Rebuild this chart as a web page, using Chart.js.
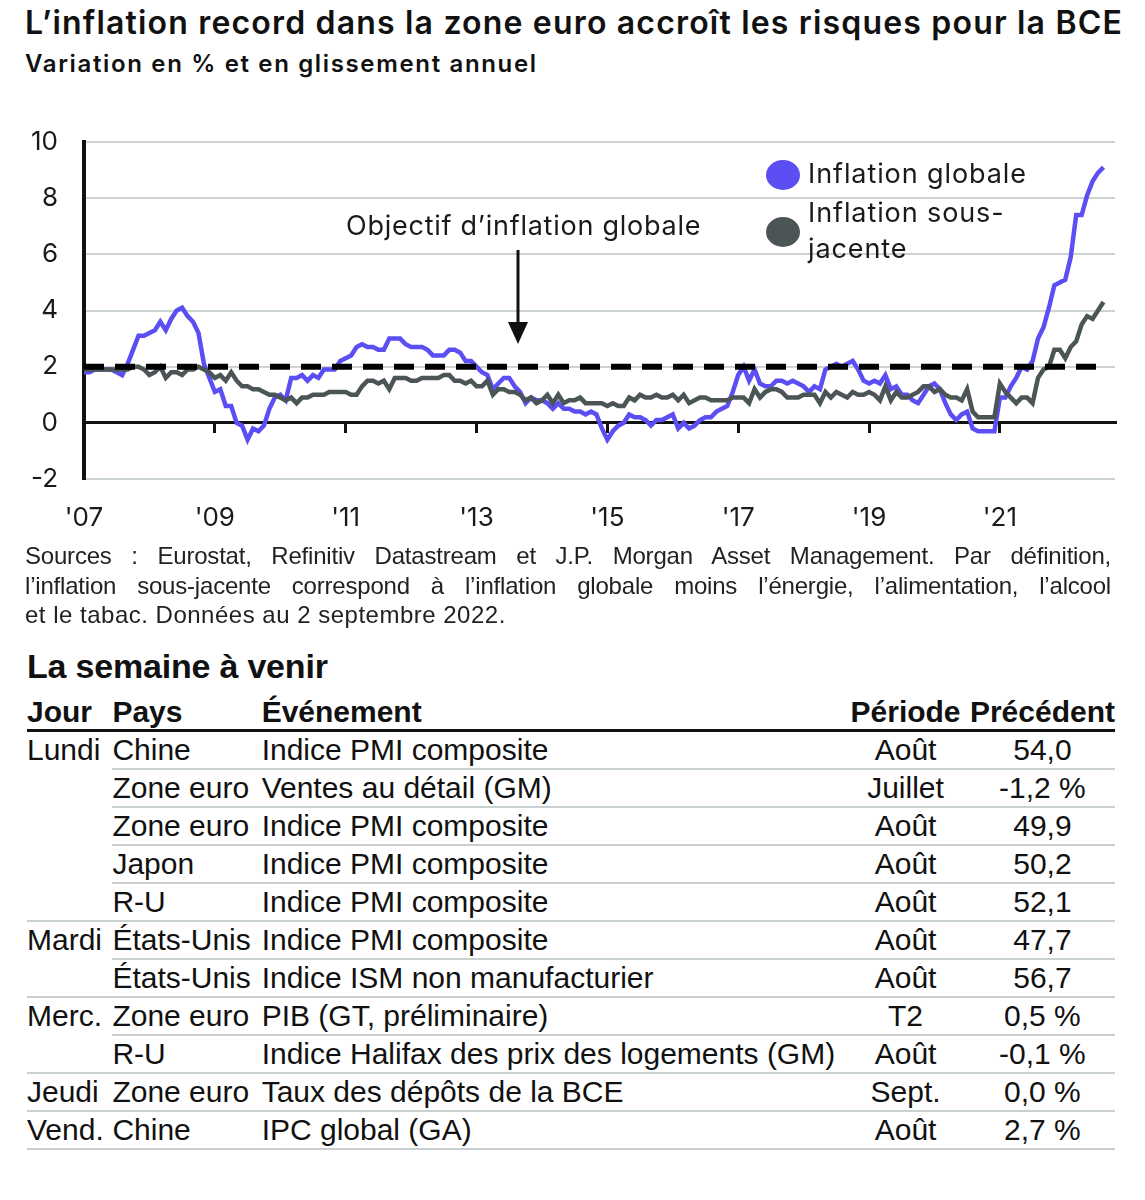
<!DOCTYPE html>
<html lang="fr">
<head>
<meta charset="utf-8">
<script src="https://cdn.jsdelivr.net/npm/chart.js@4/dist/chart.umd.min.js"></script>
<style>
  body { margin: 0; background: #fff; width: 1145px; height: 1200px; position: relative; overflow: hidden; color: #111; }
  .abs { position: absolute; white-space: nowrap; }
  #title { left: 25px; top: 3px; font: 600 32px Inter, sans-serif; letter-spacing: 1.18px; }
  #subtitle { left: 25px; top: 49px; font: 600 24px Inter, sans-serif; letter-spacing: 1.65px; }
  #chartBox { position: absolute; left: 0; top: 120px; width: 1145px; height: 430px; }
  .ann { font: 400 27px Inter, sans-serif; color: #1a1a1a; }
  .dot { position: absolute; width: 34px; height: 30px; border-radius: 50%; }
  #notes { position: absolute; left: 25px; top: 541px; width: 1086px; font: 24px "Liberation Sans", Arial, sans-serif; line-height: 29.5px; color: #222; }
  #notes .j { text-align: justify; text-align-last: justify; white-space: nowrap; letter-spacing: -0.2px; }
  #weekTitle { left: 27px; top: 647px; font: 700 34px "Liberation Sans", Arial, sans-serif; letter-spacing: -0.2px; }
  table { position: absolute; left: 27px; top: 694px; width: 1088px; border-collapse: collapse; font: 30px "Liberation Sans", Arial, sans-serif; color: #111; }
  td, th { padding: 0; height: 36px; line-height: 36px; white-space: nowrap; vertical-align: middle; }
  th { font-weight: 700; text-align: left; border-bottom: 3px solid #111; height: 35px; line-height: 34px; }
  td { border-bottom: 2px solid #c9d0d0; }
  td.day { vertical-align: top; }
  .c { text-align: center !important; }
</style>
</head>
<body>
<div id="title" class="abs">L’inflation record dans la zone euro accroît les risques pour la BCE</div>
<div id="subtitle" class="abs">Variation en % et en glissement annuel</div>

<div id="chartBox"><canvas id="lineChart" width="1145" height="430"></canvas></div>

<div class="abs ann" style="left:346px; top:209px; letter-spacing:0.75px;">Objectif d’inflation globale</div>
<svg class="abs" style="left:500px; top:248px;" width="40" height="100">
  <line x1="18" y1="2" x2="18" y2="80" stroke="#111" stroke-width="3"/>
  <polygon points="8,74 28,74 18,96" fill="#111"/>
</svg>

<div class="dot" style="left:766px; top:160px; background:#5b4ef2;"></div>
<div class="dot" style="left:766px; top:217px; background:#4b5555;"></div>
<div class="abs ann" style="left:808px; top:157px; letter-spacing:0.9px;">Inflation globale</div>
<div class="abs ann" style="left:808px; top:195px; line-height:36px; letter-spacing:0.9px;">Inflation sous-<br>jacente</div>

<div id="notes">
  <div class="j">Sources : Eurostat, Refinitiv Datastream et J.P. Morgan Asset Management. Par définition,</div>
  <div class="j">l’inflation sous-jacente correspond à l’inflation globale moins l’énergie, l’alimentation, l’alcool</div>
  <div style="letter-spacing:0.5px;">et le tabac. Données au 2 septembre 2022.</div>
</div>

<div id="weekTitle" class="abs">La semaine à venir</div>
<table id="agenda">
  <colgroup><col style="width:86px"><col style="width:150px"><col style="width:580px"><col style="width:130px"><col style="width:142px"></colgroup>
  <thead><tr><th>Jour</th><th>Pays</th><th>Événement</th><th class="c">Période</th><th class="c">Précédent</th></tr></thead>
  <tbody id="agendaBody"></tbody>
</table>

<script>
// séries mensuelles, janvier 2007 -> août 2022
const startYear = 2007;
const headline = [
  1.8, 1.8, 1.9, 1.9, 1.9, 1.9, 1.8, 1.7, 2.1, 2.6, 3.1, 3.1,
  3.2, 3.3, 3.6, 3.3, 3.7, 4.0, 4.1, 3.8, 3.6, 3.2, 2.1, 1.6,
  1.1, 1.2, 0.6, 0.6, 0.0, -0.1, -0.6, -0.2, -0.3, -0.1, 0.5, 0.9,
  1.0, 0.8, 1.6, 1.6, 1.7, 1.5, 1.7, 1.6, 1.9, 1.9, 1.9, 2.2,
  2.3, 2.4, 2.7, 2.8, 2.7, 2.7, 2.6, 2.6, 3.0, 3.0, 3.0, 2.8,
  2.7, 2.7, 2.7, 2.6, 2.4, 2.4, 2.4, 2.6, 2.6, 2.5, 2.2, 2.2,
  2.0, 1.8, 1.7, 1.2, 1.4, 1.6, 1.6, 1.3, 1.1, 0.7, 0.9, 0.8,
  0.8, 0.7, 0.5, 0.7, 0.5, 0.5, 0.4, 0.4, 0.3, 0.4, 0.3, -0.2,
  -0.6, -0.3, -0.1, 0.0, 0.3, 0.2, 0.2, 0.1, -0.1, 0.1, 0.1, 0.2,
  0.3, -0.2, 0.0, -0.2, -0.1, 0.1, 0.2, 0.2, 0.4, 0.5, 0.6, 1.1,
  1.7, 2.0, 1.5, 1.9, 1.4, 1.3, 1.3, 1.5, 1.5, 1.4, 1.5, 1.4,
  1.3, 1.1, 1.3, 1.2, 1.9, 2.0, 2.1, 2.0, 2.1, 2.2, 1.9, 1.5,
  1.4, 1.5, 1.4, 1.7, 1.2, 1.3, 1.0, 1.0, 0.8, 0.7, 1.0, 1.3,
  1.4, 1.2, 0.7, 0.3, 0.1, 0.3, 0.4, -0.2, -0.3, -0.3, -0.3, -0.3,
  0.9, 0.9, 1.3, 1.6, 2.0, 1.9, 2.2, 3.0, 3.4, 4.1, 4.9, 5.0,
  5.1, 5.9, 7.4, 7.4, 8.1, 8.6, 8.9, 9.1
];
const core = [
  1.9, 1.9, 1.9, 1.9, 1.9, 1.9, 1.9, 1.9, 1.9, 2.0, 2.0, 1.9,
  1.7, 1.8, 2.0, 1.6, 1.8, 1.8, 1.7, 1.9, 1.9, 2.0, 1.9, 1.8,
  1.6, 1.7, 1.5, 1.8, 1.5, 1.3, 1.3, 1.2, 1.2, 1.1, 1.0, 1.0,
  0.9, 0.8, 0.9, 0.7, 0.9, 0.9, 1.0, 1.0, 1.0, 1.1, 1.1, 1.1,
  1.1, 1.0, 1.0, 1.3, 1.5, 1.5, 1.4, 1.5, 1.2, 1.6, 1.6, 1.6,
  1.5, 1.5, 1.6, 1.6, 1.6, 1.6, 1.7, 1.7, 1.5, 1.5, 1.4, 1.5,
  1.3, 1.3, 1.5, 1.0, 1.2, 1.2, 1.1, 1.1, 1.0, 0.8, 0.9, 0.7,
  0.8, 1.0, 0.7, 1.0, 0.7, 0.8, 0.8, 0.9, 0.7, 0.7, 0.7, 0.7,
  0.6, 0.7, 0.6, 0.6, 0.9, 0.8, 1.0, 0.9, 0.9, 1.0, 0.9, 0.9,
  1.0, 0.8, 1.0, 0.7, 0.8, 0.9, 0.9, 0.8, 0.8, 0.8, 0.8, 0.9,
  0.9, 0.9, 0.7, 1.2, 0.9, 1.1, 1.2, 1.2, 1.1, 0.9, 0.9, 0.9,
  1.0, 1.0, 1.0, 0.7, 1.1, 0.9, 1.1, 1.0, 0.9, 1.1, 1.0, 1.0,
  1.1, 1.0, 0.8, 1.3, 0.8, 1.1, 0.9, 0.9, 1.0, 1.1, 1.3, 1.3,
  1.1, 1.2, 1.0, 0.9, 0.9, 0.8, 1.2, 0.4, 0.2, 0.2, 0.2, 0.2,
  1.4, 1.1, 0.9, 0.7, 0.9, 0.9, 0.7, 1.6, 1.9, 2.0, 2.6, 2.6,
  2.3, 2.7, 2.9, 3.5, 3.8, 3.7, 4.0, 4.3
];
const target = 2;
const tickYears = [2007, 2009, 2011, 2013, 2015, 2017, 2019, 2021];
const tickLabels = ["'07", "'09", "'11", "'13", "'15", "'17", "'19", "'21"];

// agenda de la semaine
const days = ["Lundi", "", "", "", "", "Mardi", "", "Merc.", "", "Jeudi", "Vend."];
const countries = ["Chine", "Zone euro", "Zone euro", "Japon", "R-U", "États-Unis", "États-Unis", "Zone euro", "R-U", "Zone euro", "Chine"];
const events = ["Indice PMI composite", "Ventes au détail (GM)", "Indice PMI composite", "Indice PMI composite", "Indice PMI composite",
  "Indice PMI composite", "Indice ISM non manufacturier", "PIB (GT, préliminaire)", "Indice Halifax des prix des logements (GM)",
  "Taux des dépôts de la BCE", "IPC global (GA)"];
const periods = ["Août", "Juillet", "Août", "Août", "Août", "Août", "Août", "T2", "Août", "Sept.", "Août"];
const previous = ["54,0", "-1,2 %", "49,9", "50,2", "52,1", "47,7", "56,7", "0,5 %", "-0,1 %", "0,0 %", "2,7 %"];

function buildTable() {
    const body = document.getElementById("agendaBody");
    for (let i = 0; i < days.length; i++) {
        const tr = document.createElement("tr");
        if (days[i] !== "") {
            let span = 1;
            while (i + span < days.length && days[i + span] === "") span++;
            const td = document.createElement("td");
            td.className = "day";
            td.rowSpan = span;
            td.textContent = days[i];
            tr.appendChild(td);
        }
        [countries[i], events[i], periods[i], previous[i]].forEach((txt, k) => {
            const td = document.createElement("td");
            td.textContent = txt;
            if (k >= 2) td.className = "c";
            tr.appendChild(td);
        });
        body.appendChild(tr);
    }
}
buildTable();

const toPoints = arr => arr.map((v, i) => ({ x: startYear + i / 12, y: v }));
const lastX = startYear + (headline.length - 1) / 12;

const ctx = document.getElementById("lineChart");
const tickFont = { family: "Inter", size: 26 };

window.chart = new Chart(ctx, {
    type: "line",
    data: {
        datasets: [
            {
                label: "Inflation globale",
                data: toPoints(headline),
                borderColor: "#5b4ef2",
                borderWidth: 4.5,
                pointRadius: 0,
                tension: 0,
                order: 3
            },
            {
                label: "Inflation sous-jacente",
                data: toPoints(core),
                borderColor: "#4b5555",
                borderWidth: 4.5,
                pointRadius: 0,
                tension: 0,
                order: 2
            },
            {
                label: "Objectif",
                data: [{ x: startYear, y: target }, { x: lastX, y: target }],
                borderColor: "#000",
                borderWidth: 6,
                borderDash: [20, 11],
                pointRadius: 0,
                order: 1
            }
        ]
    },
    options: {
        responsive: false,
        animation: false,
        layout: { padding: { left: 0, right: 30, top: 22, bottom: 11 } },
        plugins: { legend: { display: false }, tooltip: { enabled: false } },
        scales: {
            x: {
                type: "linear",
                min: 2007,
                max: 2022.76,
                grid: { display: false, drawTicks: false },
                border: { display: false },
                afterBuildTicks: axis => { axis.ticks = tickYears.map(v => ({ value: v })); },
                afterFit: scale => { scale.height = 60; },
                ticks: {
                    autoSkip: false,
                    maxRotation: 0,
                    padding: 24,
                    color: "#1a1a1a",
                    font: tickFont,
                    callback: v => tickLabels[tickYears.indexOf(v)]
                }
            },
            x2: {
                type: "linear",
                position: { y: 0 },
                min: 2007,
                max: 2022.76,
                grid: { display: true, drawOnChartArea: false, drawTicks: true, tickLength: 9, color: "#111", lineWidth: 3 },
                border: { display: true, color: "#111", width: 3 },
                afterBuildTicks: axis => { axis.ticks = tickYears.slice(1).map(v => ({ value: v })); },
                afterFit: scale => { scale.height = 0; },
                ticks: { display: false }
            },
            y: {
                min: -2,
                max: 10,
                afterFit: scale => { scale.width = 84; },
                grid: { color: "#cbd3d3", lineWidth: 2, drawTicks: true, tickLength: 26, tickColor: "rgba(0,0,0,0)" },
                border: { display: true, color: "#111", width: 4 },
                ticks: {
                    stepSize: 2,
                    padding: 0,
                    color: "#1a1a1a",
                    font: tickFont
                }
            }
        }
    }
});
</script>
</body>
</html>
